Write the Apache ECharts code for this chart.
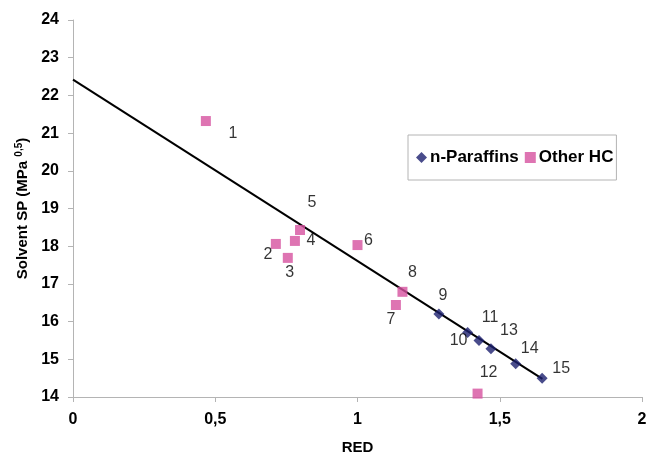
<!DOCTYPE html>
<html>
<head>
<meta charset="utf-8">
<script src="https://cdn.jsdelivr.net/npm/echarts@6/dist/echarts.min.js"></script>
<style>
    html, body { margin: 0; padding: 0; background: #fff; }
    #chart { width: 649px; height: 460px; }
</style>
</head>
<body>
<div id="chart"></div>
<script>
// n-Paraffins
const paraffinIds = ["9", "10", "11", "13", "14", "15"]
const paraffinRed = [1.286, 1.387, 1.427, 1.469, 1.556, 1.649]
const paraffinSp = [16.20, 15.71, 15.50, 15.28, 14.88, 14.50]

// Other HC
const otherIds = ["1", "2", "3", "4", "5", "6", "7", "8", "12"]
const otherRed = [0.467, 0.713, 0.755, 0.780, 0.798, 1.000, 1.135, 1.158, 1.422]
const otherSp = [21.32, 18.06, 17.69, 18.14, 18.43, 18.03, 16.44, 16.79, 14.09]

// trend line end points
const trendRed = [0, 1.65]
const trendSp = [22.42, 14.48]

// label offsets (px) from the marker centre
const labelOffsets = {
    "1": [27, 13], "2": [-8, 11], "3": [2, 15], "4": [16, 0], "5": [12, -27],
    "6": [11, -4], "7": [-5, 15], "8": [10, -19], "9": [4, -18], "10": [-9, 8],
    "11": [11, -23], "12": [11, -21], "13": [18, -18], "14": [14, -15], "15": [19, -10]
}

function points(ids, xs, ys) {
    return ids.map((id, i) => ({
        value: [xs[i], ys[i]],
        label: {
            show: true,
            formatter: id,
            position: "inside",
            offset: labelOffsets[id],
            color: "#000",
            fontSize: 16,
            fontFamily: "Liberation Sans, Arial, sans-serif"
        }
    }))
}

const axisColor = "#b4b4b4"
const font = "Liberation Sans, Arial, sans-serif"

let myChart = echarts.init(document.getElementById("chart"))
myChart.setOption({
    animation: false,
    grid: { left: 73, right: 7, top: 20, bottom: 63, outerBoundsMode: "none", containLabel: false },
    legend: {
        left: 408,
        top: 135,
        orient: "horizontal",
        data: [
            { name: "n-Paraffins", icon: "diamond" },
            { name: "Other HC", icon: "rect" }
        ],
        itemWidth: 11,
        itemHeight: 11,
        itemGap: 6,
        padding: [14, 3, 14, 8],
        borderColor: "#b4b4b4",
        borderWidth: 1,
        textStyle: { fontSize: 17, fontWeight: "bold", color: "#000", fontFamily: font, padding: [0, 0, 0, -2] }
    },
    xAxis: {
        type: "value",
        min: 0,
        max: 2,
        interval: 0.5,
        name: "RED",
        nameLocation: "middle",
        nameGap: 43,
        nameTextStyle: { fontSize: 15, fontWeight: "bold", color: "#000", fontFamily: font },
        axisLine: { show: true, lineStyle: { color: axisColor, width: 1 } },
        axisTick: { show: true, length: 5, lineStyle: { color: axisColor } },
        splitLine: { show: false },
        axisLabel: {
            margin: 15,
            fontSize: 16,
            fontWeight: "bold",
            color: "#000",
            fontFamily: font,
            formatter: v => String(v).replace(".", ",")
        }
    },
    yAxis: {
        type: "value",
        min: 14,
        max: 24,
        interval: 1,
        name: "Solvent SP (MPa {sup|0,5})",
        nameLocation: "middle",
        nameGap: 38,
        nameTextStyle: {
            fontSize: 15, fontWeight: "bold", color: "#000", fontFamily: font,
            rich: {
                sup: { fontSize: 10, fontWeight: "bold", color: "#000", fontFamily: font, verticalAlign: "top", padding: [0, 0, 8, 0] }
            }
        },
        axisLine: { show: true, lineStyle: { color: axisColor, width: 1 } },
        axisTick: { show: true, length: 5, lineStyle: { color: axisColor } },
        splitLine: { show: false },
        axisLabel: {
            margin: 14,
            fontSize: 16,
            fontWeight: "bold",
            color: "#000",
            fontFamily: font
        }
    },
    series: [
        {
            name: "trend",
            type: "line",
            data: trendRed.map((x, i) => [x, trendSp[i]]),
            showSymbol: false,
            symbol: "none",
            lineStyle: { color: "#000", width: 2 },
            z: 1,
            silent: true
        },
        {
            name: "n-Paraffins",
            type: "scatter",
            symbol: "diamond",
            symbolSize: [11, 11],
            itemStyle: { color: "#1c1f6e" },
            data: points(paraffinIds, paraffinRed, paraffinSp),
            z: 3
        },
        {
            name: "Other HC",
            type: "scatter",
            symbol: "rect",
            symbolSize: 10,
            itemStyle: { color: "#d6519f" },
            data: points(otherIds, otherRed, otherSp),
            z: 3
        }
    ]
})
</script>
</body>
</html>
